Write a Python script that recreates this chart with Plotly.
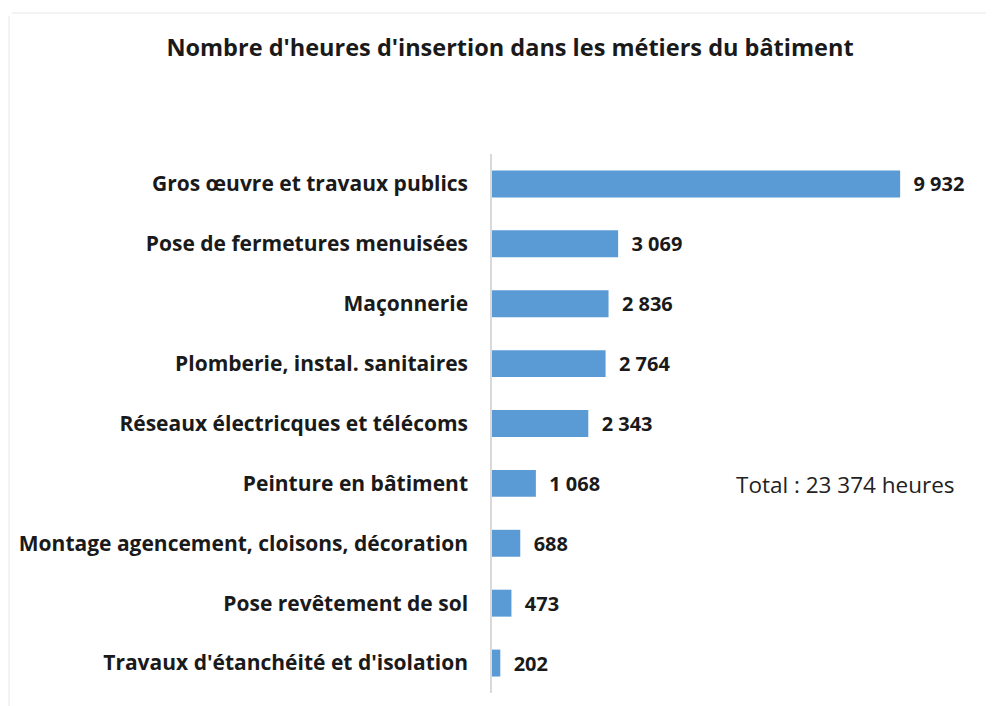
import plotly.graph_objects as go

categories = [
    "Gros œuvre et travaux publics",
    "Pose de fermetures menuisées",
    "Maçonnerie",
    "Plomberie, instal. sanitaires",
    "Réseaux électricques et télécoms",
    "Peinture en bâtiment",
    "Montage agencement, cloisons, décoration",
    "Pose revêtement de sol",
    "Travaux d'étanchéité et d'isolation",
]
hours = [9932, 3069, 2836, 2764, 2343, 1068, 688, 473, 202]
value_labels = ["9 932", "3 069", "2 836", "2 764", "2 343", "1 068", "688", "473", "202"]
title_text = "Nombre d'heures d'insertion dans les métiers du bâtiment"
total_text = "Total : 23 374 heures"

FONT = "Open Sans"
W, H = 986, 698
L, R, T, B = 484, 14, 146, 13
PW, PH = W - L - R, H - T - B


def px_x(page_x):
    return (page_x - 8 - L) / PW


def px_y(page_y):
    return 1 - (page_y - 8 - T) / PH


fig = go.Figure(
    go.Bar(
        y=categories,
        x=hours,
        orientation="h",
        marker=dict(color="#5B9BD5", line=dict(width=0)),
        text=["\u00a0\u00a0" + v for v in value_labels],
        textposition="outside",
        textfont=dict(family=FONT, size=20, color="#1a1a1a", weight="bold"),
        cliponaxis=False,
        width=0.45,
    )
)

fig.update_layout(
    width=W,
    height=H,
    paper_bgcolor="white",
    plot_bgcolor="white",
    margin=dict(l=L, r=R, t=T, b=B),
    title=dict(
        text=title_text,
        x=(510 - 8) / W,
        xanchor="center",
        y=1 - (48 - 8) / H,
        yanchor="middle",
        font=dict(family=FONT, size=23.5, color="#1a1a1a", weight="bold"),
    ),
    showlegend=False,
    annotations=[
        dict(
            text=total_text,
            x=px_x(845),
            xref="paper",
            xanchor="center",
            y=px_y(484),
            yref="paper",
            yanchor="middle",
            showarrow=False,
            font=dict(family=FONT, size=22.5, color="#222"),
        )
    ],
    shapes=[
        dict(type="line", xref="paper", yref="paper",
             x0=px_x(12), x1=px_x(994), y0=px_y(13), y1=px_y(13),
             line=dict(color="#f3f3f3", width=2)),
        dict(type="line", xref="paper", yref="paper",
             x0=px_x(9), x1=px_x(9), y0=px_y(16), y1=px_y(706),
             line=dict(color="#f3f3f3", width=2)),
    ],
)

fig.update_xaxes(
    range=[0, 11875],
    showgrid=False,
    showticklabels=False,
    zeroline=False,
    showline=False,
)
fig.update_yaxes(
    categoryorder="array",
    categoryarray=categories,
    autorange="reversed",
    showgrid=False,
    showline=True,
    linecolor="#d9d9d9",
    linewidth=1.5,
    ticks="",
    ticklabelstandoff=18,
    tickfont=dict(family=FONT, size=21, color="#1a1a1a", weight="bold"),
)

fig.write_html("out.html")
